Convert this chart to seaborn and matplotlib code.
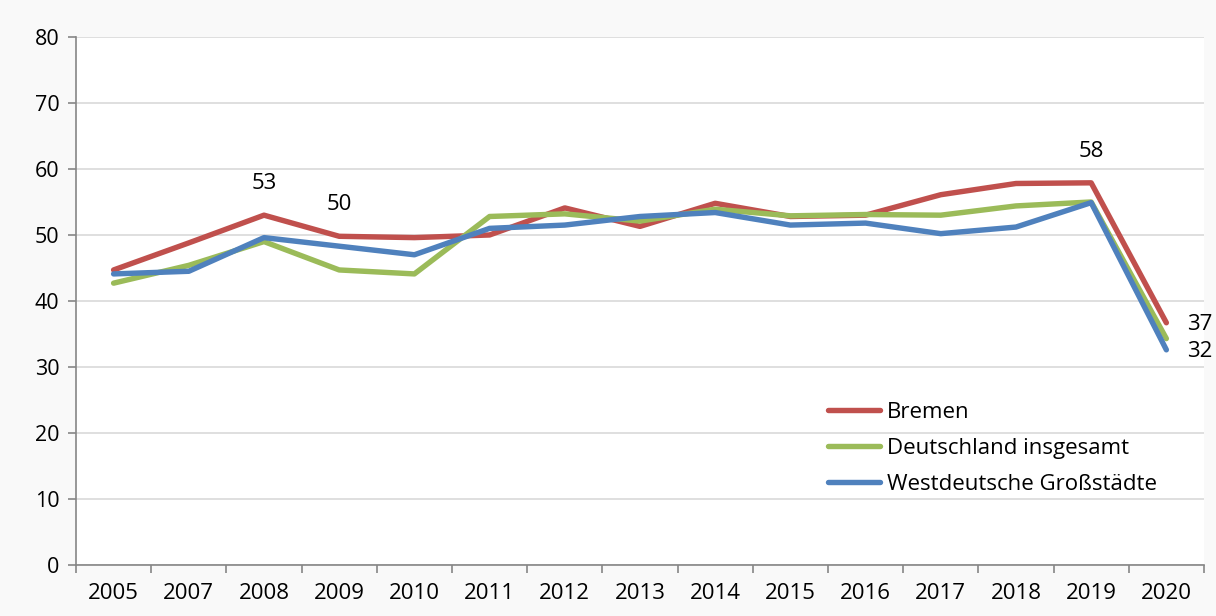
import matplotlib
matplotlib.use("Agg")
import matplotlib.pyplot as plt
import seaborn as sns
import pandas as pd
import numpy as np

years = ["2005", "2007", "2008", "2009", "2010", "2011", "2012", "2013",
         "2014", "2015", "2016", "2017", "2018", "2019", "2020"]
bremen = [44.7, 48.8, 53.0, 49.8, 49.6, 50.0, 54.1, 51.3, 54.8, 52.8, 53.0, 56.1, 57.8, 57.9, 36.7]
deutschland = [42.7, 45.4, 49.0, 44.7, 44.1, 52.8, 53.2, 52.1, 53.9, 52.9, 53.1, 53.0, 54.4, 55.0, 34.3]
westdeutsch = [44.1, 44.5, 49.6, 48.3, 47.0, 51.0, 51.5, 52.8, 53.4, 51.5, 51.8, 50.2, 51.2, 54.9, 32.6]
series_names = ["Bremen", "Deutschland insgesamt", "Westdeutsche Großstädte"]
colors = ["#C0504D", "#9BBB59", "#4F81BD"]

# labelled points: (series index, year index, text)
point_labels = [(0, 2, "53"), (0, 3, "50"), (0, 13, "58"), (0, 14, "37"), (2, 14, "32")]

rows = []
for name, vals in zip(series_names, [bremen, deutschland, westdeutsch]):
    for i, v in enumerate(vals):
        rows.append({"pos": i, "Jahr": years[i], "Wert": v, "Serie": name})
df = pd.DataFrame(rows)

sns.set_style("white")
plt.rcParams["font.family"] = ["Open Sans", "DejaVu Sans"]
plt.rcParams["text.color"] = "black"
plt.rcParams["xtick.labelcolor"] = "black"
plt.rcParams["ytick.labelcolor"] = "black"

fig = plt.figure(figsize=(12.16, 6.16), dpi=100, facecolor="#f9f9f9")
ax = fig.add_axes([0.0625, 0.0828, 0.9276, 0.8572])
ax.set_facecolor("white")

sns.lineplot(data=df, x="pos", y="Wert", hue="Serie", palette=colors,
             hue_order=series_names, linewidth=3.9, ax=ax, legend=True)

ax.set_xlim(-0.5, len(years) - 0.5)
ax.set_ylim(0, 80)
ax.set_yticks(np.arange(0, 81, 10))
ax.yaxis.grid(True, color="#d9d9d9", linewidth=1.2)
ax.set_axisbelow(True)

ax.set_xticks(np.arange(-0.5, len(years), 1.0))
ax.set_xticklabels([])
ax.set_xticks(np.arange(len(years)), minor=True)
ax.set_xticklabels(years, minor=True)
ax.tick_params(axis="x", which="major", length=6, width=1.2, color="#868686", direction="out", bottom=True)
ax.tick_params(axis="x", which="minor", length=0, pad=13, labelsize=16, labelcolor="black")
ax.tick_params(axis="y", length=6, width=1.2, color="#868686", direction="out", left=True,
               labelsize=15.5, pad=6, labelcolor="black")

for s in ["top", "right"]:
    ax.spines[s].set_visible(False)
for s in ["left", "bottom"]:
    ax.spines[s].set_color("#868686")
    ax.spines[s].set_linewidth(1.2)

ax.set_xlabel("")
ax.set_ylabel("")

all_vals = [bremen, deutschland, westdeutsch]
for si, yi, txt in point_labels:
    v = all_vals[si][yi]
    if yi == len(years) - 1:
        ax.annotate(txt, (yi, v), xytext=(15, -1), textcoords="offset points",
                    ha="left", va="center", fontsize=16, color="black")
    else:
        ax.annotate(txt, (yi, v), xytext=(0, 15), textcoords="offset points",
                    ha="center", va="bottom", fontsize=16, color="black")

leg = ax.legend(loc="lower right", bbox_to_anchor=(0.968, 0.112), frameon=False,
                borderpad=0, fontsize=16, handlelength=2.35, handletextpad=0.3,
                labelspacing=0.68)
for text in leg.get_texts():
    text.set_color("black")
for line in leg.get_lines():
    line.set_linewidth(3.9)

fig.savefig("out.png", dpi=100, facecolor=fig.get_facecolor())
